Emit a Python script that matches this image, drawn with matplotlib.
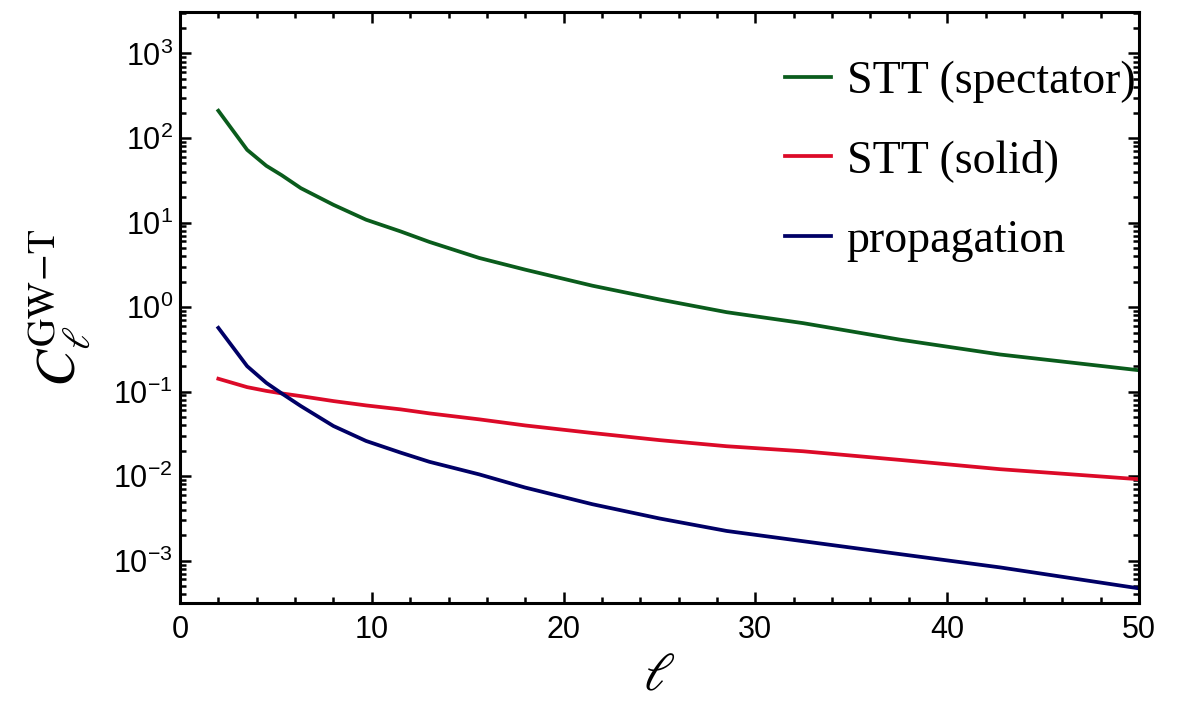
import numpy as np
import matplotlib
matplotlib.use('Agg')
import matplotlib.pyplot as plt
from matplotlib.ticker import FuncFormatter, LogLocator, MultipleLocator

# 字体配置
plt.rcParams.update({
    "font.family": ['Liberation Sans', 'DejaVu Sans'],
    "mathtext.default": 'regular',
})

# 读取的数据点 (ell, C_ell)
ell = [2, 3.5, 4.5, 5.3, 6.3, 8, 9.7, 11.5, 13, 15.6, 18, 21.5, 25, 28.5, 32.5, 37.5, 42.75, 50]
stt_spectator = [210, 72.4, 46.9, 36.3, 25.5, 16.2, 10.8, 7.85, 5.9, 3.81, 2.77, 1.79,
                 1.23, 0.87, 0.645, 0.413, 0.275, 0.179]
stt_solid = [0.142, 0.113, 0.102, 0.0953, 0.0885, 0.0773, 0.0687, 0.0617, 0.0553, 0.0470,
             0.0398, 0.0324, 0.0267, 0.0226, 0.0197, 0.0156, 0.0121, 0.0092]
propagation = [0.568, 0.200, 0.127, 0.0953, 0.0675, 0.0392, 0.0261, 0.0190, 0.0148, 0.0105,
               0.00733, 0.00466, 0.00316, 0.00225, 0.00170, 0.00120, 0.000834, 0.000471]

labels = ['STT (spectator)', 'STT (solid)', 'propagation']
colors = ['#0a5c1c', '#dc0a28', '#000066']

fig = plt.figure(figsize=(11.89, 7.16), dpi=100)
ax = fig.add_axes([180 / 1189, 1 - 603 / 716, (1139 - 180) / 1189, (603 - 12) / 716])

for y, lab, c in zip([stt_spectator, stt_solid, propagation], labels, colors):
    ax.plot(ell, y, color=c, lw=2.7, label=lab)

ax.set_yscale('log')
ax.set_xlim(0, 50)
ax.set_ylim(10 ** -3.5, 10 ** 3.49)

# 刻度
ax.xaxis.set_major_locator(MultipleLocator(10))
ax.xaxis.set_minor_locator(MultipleLocator(2))
ax.yaxis.set_major_locator(LogLocator(base=10, numticks=20))
ax.yaxis.set_minor_locator(LogLocator(base=10, subs=np.arange(2, 10), numticks=20))
ax.yaxis.set_major_formatter(FuncFormatter(lambda v, p: r'$\mathregular{10^{%d}}$' % round(np.log10(v))))
ax.tick_params(which='both', direction='in', top=True, right=True, width=1.8)
ax.tick_params(which='major', length=8, labelsize=22)
ax.tick_params(which='minor', length=4.5)
ax.tick_params(axis='x', pad=9)
ax.tick_params(axis='y', pad=5)
for s in ax.spines.values():
    s.set_linewidth(2.2)

# 坐标轴标签
ax.set_xlabel(r'$\mathit{\ell}$', fontsize=38, math_fontfamily='stix', labelpad=4)
ax.set_ylabel(r'$\mathit{C}_{\mathit{\ell}}^{\mathrm{GW\!-\!T}}$', fontsize=40,
              math_fontfamily='stix')
ax.yaxis.set_label_coords(-0.092, 0.5)

ax.legend(loc='upper right', frameon=False, prop={'family': 'Liberation Serif', 'size': 33},
          handlelength=1.0, handletextpad=0.35, labelspacing=0.8,
          borderaxespad=0.1, bbox_to_anchor=(1.02, 0.957))

plt.savefig('out.png', dpi=100)
